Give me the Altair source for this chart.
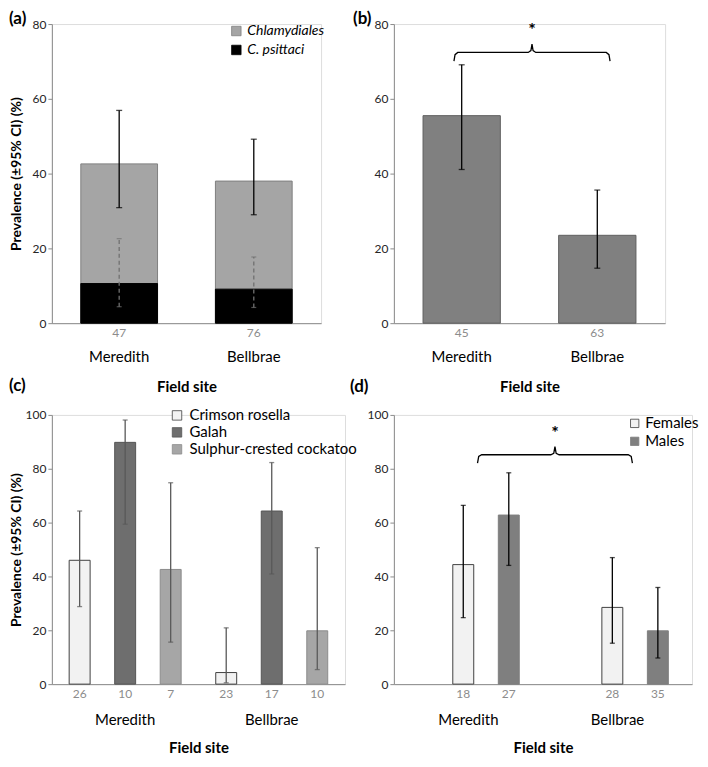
import altair as alt
import pandas as pd

FONT = "Lato"

sites = ["Meredith", "Bellbrae"]

# ---- panel (a)
a_series = ["Chlamydiales", "C. psittaci"]
a_n = [47, 76]
a_chlam = [42.6, 38.0]
a_chlam_lo = [30.9, 29.0]
a_chlam_hi = [56.9, 49.2]
a_psit = [10.6, 9.1]
a_psit_lo = [4.4, 4.2]
a_psit_hi = [22.6, 17.7]

# ---- panel (b)
b_n = [45, 63]
b_prev = [55.5, 23.5]
b_lo = [41.1, 14.7]
b_hi = [69.1, 35.6]

# ---- panel (c)
species = ["Crimson rosella", "Galah", "Sulphur-crested cockatoo"]
c_prev_mer = [46.0, 89.8, 42.6]
c_lo_mer = [28.8, 59.4, 15.6]
c_hi_mer = [64.3, 98.1, 74.8]
c_n_mer = [26, 10, 7]
c_prev_bel = [4.3, 64.3, 19.8]
c_lo_bel = [0.5, 40.9, 5.4]
c_hi_bel = [20.9, 82.3, 50.7]
c_n_bel = [23, 17, 10]

# ---- panel (d)
sexes = ["Females", "Males"]
d_prev_mer = [44.4, 62.8]
d_lo_mer = [24.7, 44.1]
d_hi_mer = [66.4, 78.5]
d_n_mer = [18, 27]
d_prev_bel = [28.5, 19.8]
d_lo_bel = [15.2, 9.7]
d_hi_bel = [47.0, 35.9]
d_n_bel = [28, 35]

# significance braces (fraction of panel width, value on y axis)
brace_b = dict(left=0.2215, right=0.797, level=72.4, tip=74.6, end=70.1, star=78.2)
brace_d = dict(left=0.2805, right=0.80, level=85.2, tip=88.2, end=82.1, star=93.0)

Y_TITLE = "Prevalence (±95% CI) (%)"
AX_GREY = "#8c8c8c"

# panel sizes (plot areas)
W_A, W_B, W_C, W_D = 270, 272, 294, 299
H_TOP, H_BOT = 300, 270


def y_axis(values, title, title_padding=8, label_padding=2):
    return alt.Axis(values=values, title=title, grid=False, domainColor=AX_GREY,
                    tickColor=AX_GREY, tickSize=4, labelFontSize=12, labelColor="#262626",
                    labelPadding=label_padding, titleFontSize=14, titleFontWeight="bold",
                    titleColor="#000000", titlePadding=title_padding)


def x_axis(label_padding, title_padding):
    return alt.Axis(title="Field site", labelAngle=0, ticks=False, tickSize=0,
                    labelFontSize=15, labelColor="#000000", labelPadding=label_padding,
                    domainColor=AX_GREY, titleFontSize=15, titleFontWeight="bold",
                    titleColor="#000000", titlePadding=title_padding)


def panel_title(text, dx, offset):
    return alt.TitleParams(text=text, anchor="start", frame="group", dx=dx,
                           fontSize=17, fontWeight="bold", color="#000000", offset=offset)


def brace_frame(br):
    L, R = br["left"], br["right"]
    C = (L + R) / 2
    lv, tp, en = br["level"], br["tip"], br["end"]
    xs = [L, L + 0.004, L + 0.014, C - 0.014, C - 0.004, C,
          C + 0.004, C + 0.014, R - 0.014, R - 0.004, R]
    ys = [en, lv - 0.6, lv, lv, lv + 0.5, tp, lv + 0.5, lv, lv, lv - 0.6, en]
    return pd.DataFrame({"fx": xs, "y": ys, "i": list(range(len(xs)))})


def brace_layers(br, ymax):
    bdf = brace_frame(br)
    line = alt.Chart(bdf).mark_line(color="#000000", strokeWidth=1.3).encode(
        x=alt.X("fx:Q", scale=alt.Scale(domain=[0, 1]), axis=None),
        y=alt.Y("y:Q", scale=alt.Scale(domain=[0, ymax])),
        order="i:Q",
    )
    sdf = pd.DataFrame({"fx": [(br["left"] + br["right"]) / 2], "y": [br["star"]], "t": ["*"]})
    star = alt.Chart(sdf).mark_text(fontSize=18, fontWeight="bold", color="#000000").encode(
        x=alt.X("fx:Q", scale=alt.Scale(domain=[0, 1]), axis=None),
        y=alt.Y("y:Q", scale=alt.Scale(domain=[0, ymax])),
        text="t:N",
    )
    return line, star


CNT = dict(baseline="top", dy=5, fontSize=12, color="#8c8c8c")

# ================= panel (a)
rows = []
for i, s in enumerate(sites):
    rows.append(dict(series=a_series[0], site=s, prev=a_chlam[i], lo=a_chlam_lo[i], hi=a_chlam_hi[i], n=a_n[i]))
for i, s in enumerate(sites):
    rows.append(dict(series=a_series[1], site=s, prev=a_psit[i], lo=a_psit_lo[i], hi=a_psit_hi[i], n=a_n[i]))
df_a = pd.DataFrame(rows)

band_ab = alt.Scale(paddingInner=0.43, paddingOuter=0.215)
xa = alt.X("site:N", sort=sites, scale=band_ab, axis=x_axis(26, 16))
xs_ = alt.X("site:N", sort=sites)
ya80 = alt.Scale(domain=[0, 80])

a_bars = alt.Chart(df_a).mark_bar(strokeWidth=1).encode(
    x=xa,
    y=alt.Y("prev:Q", stack=None, scale=ya80, axis=y_axis([0, 20, 40, 60, 80], Y_TITLE, title_padding=9)),
    fill=alt.Fill("series:N", sort=a_series,
                  scale=alt.Scale(domain=a_series, range=["#a5a5a5", "#000000"]),
                  legend=alt.Legend(title=None, orient="none", legendX=178, legendY=0,
                                    symbolType="square", symbolSize=90, symbolStrokeColor="#7a7a7a",
                                    symbolStrokeWidth=0.8, labelFontSize=14, labelFontStyle="italic",
                                    labelColor="#000000", rowPadding=5, labelOffset=4, padding=0,
                                    labelLimit=300)),
    stroke=alt.Stroke("series:N", scale=alt.Scale(domain=a_series, range=["#808080", "#000000"]),
                      legend=None),
)
a_err_c = alt.Chart(df_a).transform_filter(alt.datum.series == a_series[0])
a_err_p = alt.Chart(df_a).transform_filter(alt.datum.series == a_series[1])
a_rule1 = a_err_c.mark_rule(color="#000000", strokeWidth=1.3).encode(x=xs_, y=alt.Y("lo:Q", scale=ya80), y2="hi:Q")
a_cap1a = a_err_c.mark_tick(color="#000000", thickness=1.3, size=6).encode(x=xs_, y=alt.Y("lo:Q", scale=ya80))
a_cap1b = a_err_c.mark_tick(color="#000000", thickness=1.3, size=6).encode(x=xs_, y=alt.Y("hi:Q", scale=ya80))
a_rule2 = a_err_p.mark_rule(color="#707070", strokeWidth=1.3, strokeDash=[4, 3]).encode(x=xs_, y=alt.Y("lo:Q", scale=ya80), y2="hi:Q")
a_cap2a = a_err_p.mark_tick(color="#707070", thickness=1.2, size=5).encode(x=xs_, y=alt.Y("lo:Q", scale=ya80))
a_cap2b = a_err_p.mark_tick(color="#707070", thickness=1.2, size=5).encode(x=xs_, y=alt.Y("hi:Q", scale=ya80))
a_cnt = a_err_c.mark_text(**CNT).encode(x=xs_, y=alt.datum(0), text="n:N")

panel_a = alt.layer(a_bars, a_rule1, a_cap1a, a_cap1b, a_rule2, a_cap2a, a_cap2b, a_cnt).properties(
    width=W_A, height=H_TOP, title=panel_title("(a)", dx=-43, offset=-10))

# ================= panel (b)
df_b = pd.DataFrame(dict(site=sites, prev=b_prev, lo=b_lo, hi=b_hi, n=b_n))
xb = alt.X("site:N", sort=sites, scale=band_ab, axis=x_axis(26, 16))
b_base = alt.Chart(df_b)
b_bars = b_base.mark_bar(color="#808080", stroke="#5e5e5e", strokeWidth=1).encode(
    x=xb, y=alt.Y("prev:Q", scale=ya80, axis=y_axis([0, 20, 40, 60, 80], "")))
b_rule = b_base.mark_rule(color="#000000", strokeWidth=1.3).encode(x=xs_, y=alt.Y("lo:Q", scale=ya80), y2="hi:Q")
b_cap1 = b_base.mark_tick(color="#000000", thickness=1.3, size=6).encode(x=xs_, y=alt.Y("lo:Q", scale=ya80))
b_cap2 = b_base.mark_tick(color="#000000", thickness=1.3, size=6).encode(x=xs_, y=alt.Y("hi:Q", scale=ya80))
b_cnt = b_base.mark_text(**CNT).encode(x=xs_, y=alt.datum(0), text="n:N")
b_inner = alt.layer(b_bars, b_rule, b_cap1, b_cap2, b_cnt)
b_line, b_star = brace_layers(brace_b, 80)
panel_b = alt.layer(b_inner, b_line, b_star).resolve_scale(x="independent").properties(
    width=W_B, height=H_TOP, title=panel_title("(b)", dx=-41, offset=-10))

# ================= panel (c)
rows = []
for i, sp in enumerate(species):
    rows.append(dict(site="Meredith", sp=sp, prev=c_prev_mer[i], lo=c_lo_mer[i], hi=c_hi_mer[i], n=c_n_mer[i]))
for i, sp in enumerate(species):
    rows.append(dict(site="Bellbrae", sp=sp, prev=c_prev_bel[i], lo=c_lo_bel[i], hi=c_hi_bel[i], n=c_n_bel[i]))
df_c = pd.DataFrame(rows)
yc = alt.Scale(domain=[0, 100])
sc_xc = alt.Scale(paddingInner=0.236, paddingOuter=0.118)
sc_oc = alt.Scale(type="band", paddingInner=0.08, paddingOuter=0)
xc = alt.X("site:N", sort=sites, scale=sc_xc, axis=x_axis(28, 14))
xc2 = alt.X("site:N", sort=sites, scale=sc_xc)
oc = alt.XOffset("sp:N", sort=species, scale=sc_oc)
c_base = alt.Chart(df_c)
c_bars = c_base.mark_bar(strokeWidth=1).encode(
    x=xc, xOffset=oc,
    y=alt.Y("prev:Q", scale=yc, axis=y_axis([0, 20, 40, 60, 80, 100], Y_TITLE, title_padding=2)),
    fill=alt.Fill("sp:N", sort=species,
                  scale=alt.Scale(domain=species, range=["#f2f2f2", "#6e6e6e", "#a6a6a6"]),
                  legend=alt.Legend(title=None, orient="none", legendX=118, legendY=-7,
                                    symbolType="square", symbolSize=90, symbolStrokeColor="#404040",
                                    symbolStrokeWidth=0.8, labelFontSize=15, labelColor="#000000",
                                    rowPadding=1, labelOffset=5, padding=0, labelLimit=300)),
    stroke=alt.Stroke("sp:N", scale=alt.Scale(domain=species, range=["#404040", "#555555", "#8c8c8c"]),
                      legend=None),
)
ecol = "#595959"
c_rule = c_base.mark_rule(color=ecol, strokeWidth=1.3).encode(x=xc2, xOffset=oc, y=alt.Y("lo:Q", scale=yc), y2="hi:Q")
c_cap1 = c_base.mark_tick(color=ecol, thickness=1.3, size=5).encode(x=xc2, xOffset=oc, y=alt.Y("lo:Q", scale=yc))
c_cap2 = c_base.mark_tick(color=ecol, thickness=1.3, size=5).encode(x=xc2, xOffset=oc, y=alt.Y("hi:Q", scale=yc))
c_cnt = c_base.mark_text(**CNT).encode(x=xc2, xOffset=oc, y=alt.datum(0), text="n:N")
panel_c = alt.layer(c_bars, c_rule, c_cap1, c_cap2, c_cnt).properties(
    width=W_C, height=H_BOT, title=panel_title("(c)", dx=-43, offset=13))

# ================= panel (d)
rows = []
for i, sx in enumerate(sexes):
    rows.append(dict(site="Meredith", sex=sx, prev=d_prev_mer[i], lo=d_lo_mer[i], hi=d_hi_mer[i], n=d_n_mer[i]))
for i, sx in enumerate(sexes):
    rows.append(dict(site="Bellbrae", sex=sx, prev=d_prev_bel[i], lo=d_lo_bel[i], hi=d_hi_bel[i], n=d_n_bel[i]))
df_d = pd.DataFrame(rows)
sc_xd = alt.Scale(paddingInner=0.485, paddingOuter=0.2425)
sc_od = alt.Scale(type="band", paddingInner=0.19, paddingOuter=0)
xd = alt.X("site:N", sort=sites, scale=sc_xd, axis=x_axis(28, 14))
xd2 = alt.X("site:N", sort=sites, scale=sc_xd)
od = alt.XOffset("sex:N", sort=sexes, scale=sc_od)
d_base = alt.Chart(df_d)
d_bars = d_base.mark_bar(strokeWidth=1).encode(
    x=xd, xOffset=od,
    y=alt.Y("prev:Q", scale=yc, axis=y_axis([0, 20, 40, 60, 80, 100], "")),
    fill=alt.Fill("sex:N", sort=sexes,
                  scale=alt.Scale(domain=sexes, range=["#f2f2f2", "#7f7f7f"]),
                  legend=alt.Legend(title=None, orient="none", legendX=234, legendY=1,
                                    symbolType="square", symbolSize=70, symbolStrokeColor="#404040",
                                    symbolStrokeWidth=0.8, labelFontSize=15, labelColor="#000000",
                                    rowPadding=2, labelOffset=3, padding=0, labelLimit=300)),
    stroke=alt.Stroke("sex:N", scale=alt.Scale(domain=sexes, range=["#404040", "#7f7f7f"]), legend=None),
)
d_rule = d_base.mark_rule(color="#000000", strokeWidth=1.3).encode(x=xd2, xOffset=od, y=alt.Y("lo:Q", scale=yc), y2="hi:Q")
d_cap1 = d_base.mark_tick(color="#000000", thickness=1.3, size=5).encode(x=xd2, xOffset=od, y=alt.Y("lo:Q", scale=yc))
d_cap2 = d_base.mark_tick(color="#000000", thickness=1.3, size=5).encode(x=xd2, xOffset=od, y=alt.Y("hi:Q", scale=yc))
d_cnt = d_base.mark_text(**CNT).encode(x=xd2, xOffset=od, y=alt.datum(0), text="n:N")
d_inner = alt.layer(d_bars, d_rule, d_cap1, d_cap2, d_cnt)
d_line, d_star = brace_layers(brace_d, 100)
panel_d = alt.layer(d_inner, d_line, d_star).resolve_scale(x="independent").properties(
    width=W_D, height=H_BOT, title=panel_title("(d)", dx=-44, offset=13))

chart = alt.concat(panel_a, panel_b, panel_c, panel_d, columns=2,
                   spacing={"row": 92, "column": 49}, bounds="flush").resolve_scale(
    fill="independent", stroke="independent", y="independent", x="independent"
).resolve_legend(fill="independent", stroke="independent").properties(
    padding={"left": 0, "top": 0, "right": 0, "bottom": 0}
).configure_view(stroke=None).configure(font=FONT)

chart.save("out.html", embed_options={"renderer": "svg", "actions": False})
